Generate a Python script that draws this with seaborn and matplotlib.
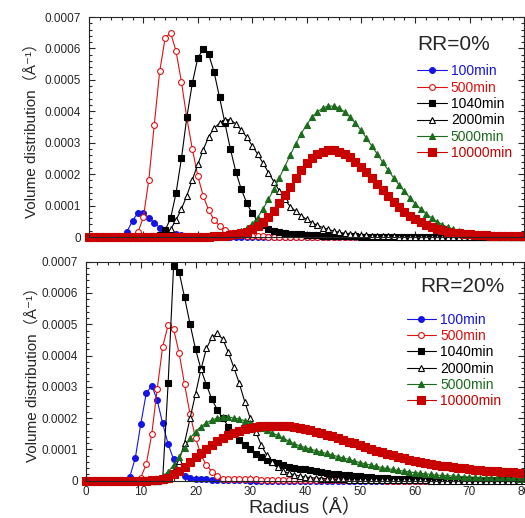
# Volume distribution vs radius, RR=0% and RR=20%

import numpy as np
import matplotlib
matplotlib.use('Agg')
import matplotlib.pyplot as plt
import seaborn as sns
from matplotlib.ticker import MultipleLocator, FuncFormatter

radius = list(range(0, 81))
times = ['100min', '500min', '1040min', '2000min', '5000min', '10000min']

# values, in units of 1e-4 per Angstrom (one per radius 0..80)
rr0_100 = [
    0, 0, 0, 0, 0, 0, 0.03, 0.17, 0.52, 0.77,
    0.77, 0.60, 0.46, 0.30, 0.22, 0.14, 0.09, 0.06, 0.04, 0.03,
    0.02, 0.02, 0.01, 0.01, 0, 0, 0, 0, 0, 0,
    0, 0, 0, 0, 0, 0, 0, 0, 0, 0,
    0, 0, 0, 0, 0, 0, 0, 0, 0, 0,
    0, 0, 0, 0, 0, 0, 0, 0, 0, 0,
    0, 0, 0, 0, 0, 0, 0, 0, 0, 0,
    0, 0, 0, 0, 0, 0, 0, 0, 0, 0,
    0]
rr0_500 = [
    0, 0, 0, 0, 0, 0, 0, 0, 0.03, 0.15,
    0.63, 1.82, 3.57, 5.27, 6.33, 6.50, 5.92, 4.93, 3.78, 2.80,
    1.95, 1.31, 0.86, 0.54, 0.36, 0.22, 0.14, 0.09, 0.06, 0.04,
    0.03, 0.02, 0.02, 0.01, 0.01, 0, 0, 0, 0, 0,
    0, 0, 0, 0, 0, 0, 0, 0, 0, 0,
    0, 0, 0, 0, 0, 0, 0, 0, 0, 0,
    0, 0, 0, 0, 0, 0, 0, 0, 0, 0,
    0, 0, 0, 0, 0, 0, 0, 0, 0, 0,
    0]
rr0_1040 = [
    0, 0, 0, 0, 0, 0, 0, 0, 0, 0,
    0, 0, 0.02, 0.07, 0.22, 0.59, 1.39, 2.50, 3.82, 4.89,
    5.69, 5.98, 5.82, 5.25, 4.45, 3.62, 2.80, 2.08, 1.52, 1.09,
    0.75, 0.52, 0.37, 0.27, 0.20, 0.16, 0.13, 0.11, 0.09, 0.08,
    0.07, 0.06, 0.05, 0.04, 0.04, 0.03, 0.03, 0.02, 0.02, 0.02,
    0.01, 0.01, 0.01, 0.01, 0.01, 0.01, 0, 0, 0, 0,
    0, 0, 0, 0, 0, 0, 0, 0, 0, 0,
    0, 0, 0, 0, 0, 0, 0, 0, 0, 0,
    0]
rr0_2000 = [
    0, 0, 0, 0, 0, 0, 0, 0, 0, 0,
    0, 0, 0, 0.03, 0.10, 0.24, 0.54, 0.89, 1.32, 1.82,
    2.31, 2.77, 3.19, 3.46, 3.62, 3.73, 3.73, 3.60, 3.41, 3.18,
    2.91, 2.64, 2.35, 2.05, 1.76, 1.47, 1.20, 0.97, 0.82, 0.68,
    0.56, 0.46, 0.37, 0.30, 0.24, 0.19, 0.15, 0.12, 0.10, 0.08,
    0.06, 0.05, 0.04, 0.03, 0.03, 0.02, 0.02, 0.01, 0.01, 0.01,
    0.01, 0.01, 0, 0, 0, 0, 0, 0, 0, 0,
    0, 0, 0, 0, 0, 0, 0, 0, 0, 0,
    0]
rr0_5000 = [
    0, 0, 0, 0, 0, 0, 0, 0, 0, 0,
    0, 0, 0, 0, 0, 0, 0, 0, 0, 0,
    0, 0, 0.01, 0.02, 0.03, 0.05, 0.09, 0.14, 0.20, 0.28,
    0.42, 0.62, 0.89, 1.20, 1.52, 1.88, 2.24, 2.60, 2.96, 3.28,
    3.57, 3.81, 3.98, 4.10, 4.17, 4.16, 4.10, 3.98, 3.82, 3.62,
    3.40, 3.15, 2.90, 2.64, 2.38, 2.13, 1.89, 1.66, 1.45, 1.25,
    1.06, 0.89, 0.74, 0.61, 0.49, 0.39, 0.31, 0.24, 0.19, 0.14,
    0.11, 0.08, 0.06, 0.05, 0.04, 0.03, 0.02, 0.02, 0.01, 0.01,
    0.01]
rr0_10000 = [
    0, 0, 0, 0, 0, 0, 0, 0, 0, 0,
    0, 0, 0, 0, 0, 0, 0, 0, 0, 0,
    0, 0, 0.01, 0.02, 0.03, 0.04, 0.06, 0.08, 0.12, 0.17,
    0.24, 0.35, 0.49, 0.65, 0.84, 1.09, 1.34, 1.59, 1.88, 2.13,
    2.34, 2.50, 2.63, 2.72, 2.77, 2.77, 2.72, 2.64, 2.54, 2.40,
    2.24, 2.06, 1.87, 1.68, 1.50, 1.31, 1.12, 0.97, 0.81, 0.67,
    0.56, 0.47, 0.39, 0.32, 0.26, 0.21, 0.17, 0.14, 0.12, 0.10,
    0.08, 0.07, 0.06, 0.05, 0.04, 0.04, 0.03, 0.03, 0.02, 0.02,
    0.02]

rr20_100 = [
    0, 0, 0, 0, 0, 0, 0, 0.02, 0.13, 0.72,
    1.81, 2.79, 3.04, 2.58, 1.83, 1.17, 0.68, 0.34, 0.16, 0.09,
    0.06, 0.05, 0.04, 0.03, 0.03, 0.02, 0.02, 0.01, 0.01, 0.01,
    0, 0, 0, 0, 0, 0, 0, 0, 0, 0,
    0, 0, 0, 0, 0, 0, 0, 0, 0, 0,
    0, 0, 0, 0, 0, 0, 0, 0, 0, 0,
    0, 0, 0, 0, 0, 0, 0, 0, 0, 0,
    0, 0, 0, 0, 0, 0, 0, 0, 0, 0,
    0]
rr20_500 = [
    0, 0, 0, 0, 0, 0, 0, 0, 0, 0.02,
    0.10, 0.52, 1.48, 2.92, 4.28, 4.97, 4.85, 4.09, 3.08, 2.13,
    1.37, 0.82, 0.50, 0.29, 0.14, 0.07, 0.05, 0.05, 0.04, 0.04,
    0.04, 0.04, 0.03, 0.03, 0.03, 0.03, 0.03, 0.03, 0.03, 0.02,
    0.02, 0.02, 0.02, 0.02, 0.02, 0.01, 0.01, 0.01, 0.01, 0.01,
    0.01, 0.01, 0.01, 0.01, 0.01, 0, 0, 0, 0, 0,
    0, 0, 0, 0, 0, 0, 0, 0, 0, 0,
    0, 0, 0, 0, 0, 0, 0, 0, 0, 0,
    0]
rr20_1040 = [
    0, 0, 0, 0, 0, 0, 0, 0, 0, 0,
    0, 0, 0, 0, 0.03, 3.11, 6.86, 6.68, 5.86, 5.01,
    4.21, 3.56, 3.06, 2.60, 2.26, 1.99, 1.73, 1.51, 1.30, 1.14,
    1.00, 0.85, 0.77, 0.66, 0.61, 0.55, 0.50, 0.45, 0.41, 0.38,
    0.36, 0.33, 0.30, 0.27, 0.25, 0.23, 0.21, 0.19, 0.17, 0.15,
    0.14, 0.12, 0.11, 0.10, 0.09, 0.08, 0.07, 0.06, 0.05, 0.05,
    0.04, 0.04, 0.03, 0.03, 0.03, 0.02, 0.02, 0.02, 0.02, 0.02,
    0.02, 0.01, 0.01, 0.01, 0.01, 0.01, 0.01, 0.01, 0.01, 0.01,
    0.01]
rr20_2000 = [
    0, 0, 0, 0, 0, 0, 0, 0, 0, 0,
    0, 0, 0, 0, 0.02, 0.08, 0.32, 0.64, 1.21, 1.99,
    2.77, 3.56, 4.23, 4.58, 4.71, 4.52, 4.10, 3.62, 3.11, 2.52,
    1.99, 1.57, 1.14, 0.82, 0.59, 0.43, 0.31, 0.24, 0.19, 0.15,
    0.12, 0.10, 0.08, 0.07, 0.06, 0.05, 0.04, 0.04, 0.03, 0.03,
    0.02, 0.02, 0.02, 0.02, 0.02, 0.02, 0.01, 0.01, 0.01, 0.01,
    0.01, 0.01, 0.01, 0, 0, 0, 0, 0, 0, 0,
    0, 0, 0, 0, 0, 0, 0, 0, 0, 0,
    0]
rr20_5000 = [
    0, 0, 0, 0, 0, 0, 0, 0, 0, 0,
    0, 0, 0, 0.05, 0.15, 0.29, 0.50, 0.77, 1.05, 1.35,
    1.57, 1.73, 1.85, 1.94, 2.00, 2.04, 2.04, 2.00, 1.97, 1.92,
    1.85, 1.78, 1.70, 1.62, 1.53, 1.45, 1.36, 1.27, 1.18, 1.12,
    1.06, 1.01, 0.96, 0.91, 0.87, 0.82, 0.77, 0.73, 0.68, 0.63,
    0.58, 0.54, 0.50, 0.46, 0.42, 0.39, 0.36, 0.33, 0.31, 0.28,
    0.26, 0.24, 0.22, 0.20, 0.18, 0.17, 0.16, 0.15, 0.14, 0.13,
    0.12, 0.11, 0.10, 0.10, 0.09, 0.09, 0.08, 0.08, 0.08, 0.07,
    0.07]
rr20_10000 = [
    0, 0, 0, 0, 0, 0, 0, 0, 0, 0,
    0, 0, 0.01, 0.03, 0.06, 0.10, 0.21, 0.32, 0.45, 0.59,
    0.75, 0.88, 1.01, 1.14, 1.27, 1.37, 1.46, 1.53, 1.60, 1.65,
    1.69, 1.72, 1.74, 1.75, 1.76, 1.76, 1.75, 1.74, 1.72, 1.69,
    1.65, 1.61, 1.56, 1.52, 1.47, 1.42, 1.37, 1.31, 1.25, 1.19,
    1.13, 1.07, 1.01, 0.96, 0.91, 0.86, 0.81, 0.76, 0.72, 0.67,
    0.63, 0.60, 0.57, 0.53, 0.50, 0.48, 0.46, 0.44, 0.42, 0.40,
    0.37, 0.35, 0.34, 0.32, 0.31, 0.30, 0.29, 0.28, 0.27, 0.26,
    0.25]

rr0_curves = [rr0_100, rr0_500, rr0_1040, rr0_2000, rr0_5000, rr0_10000]
rr20_curves = [rr20_100, rr20_500, rr20_1040, rr20_2000, rr20_5000, rr20_10000]

blue = '#1414e6'
red = '#e01010'
dark_red = '#c80000'
green = '#1d6b1d'

styles = {
    '100min':   dict(color=blue, marker='o', mfc=blue, ms=4.2),
    '500min':   dict(color=red, marker='o', mfc='white', ms=4.2),
    '1040min':  dict(color='black', marker='s', mfc='black', ms=4.7),
    '2000min':  dict(color='black', marker='^', mfc='white', ms=5.0),
    '5000min':  dict(color=green, marker='^', mfc=green, ms=4.3),
    '10000min': dict(color=dark_red, marker='s', mfc=dark_red, ms=5.4),
}
text_colors = [blue, red, 'black', 'black', green, dark_red]

sns.set_style('ticks')
plt.rcParams['font.family'] = ['Liberation Sans', 'Noto Sans CJK SC', 'DejaVu Sans']


def fmt_y(v, pos):
    return '0' if abs(v) < 1e-12 else f'{v:.4f}'


def draw_panel(ax, curves, tag, tag_xy, leg_xy):
    for name, vals in zip(times, curves):
        st = styles[name]
        sns.lineplot(x=radius, y=np.array(vals) * 1e-4, ax=ax,
                     estimator=None, errorbar=None,
                     color=st['color'], linewidth=0.8,
                     marker=st['marker'], markersize=st['ms'],
                     markerfacecolor=st['mfc'], markeredgecolor=st['color'],
                     markeredgewidth=0.8, label=name, clip_on=False)
    ax.set_xlim(0, 80)
    ax.set_ylim(0, 0.0007)
    ax.xaxis.set_major_locator(MultipleLocator(10))
    ax.xaxis.set_minor_locator(MultipleLocator(2))
    ax.yaxis.set_major_locator(MultipleLocator(0.0001))
    ax.yaxis.set_minor_locator(MultipleLocator(0.00002))
    ax.yaxis.set_major_formatter(FuncFormatter(fmt_y))
    ax.tick_params(which='both', direction='in', top=True, right=True,
                   width=0.8, labelsize=8.5)
    ax.tick_params(which='major', length=4.5)
    ax.tick_params(which='minor', length=2.5)
    ax.tick_params(axis='y', pad=6)
    ax.tick_params(axis='x', pad=4)
    for sp in ax.spines.values():
        sp.set_linewidth(0.8)

    ax.set_ylabel('Volume distribution（Å⁻¹）', fontsize=11)
    ax.text(tag_xy[0], tag_xy[1], tag, transform=ax.transAxes,
            fontsize=15, ha='left', va='center')

    handles, labels = ax.get_legend_handles_labels()
    leg = ax.legend(handles, labels, loc='upper left', bbox_to_anchor=leg_xy,
                    frameon=False, fontsize=10, borderpad=0, borderaxespad=0,
                    handlelength=2.1, handletextpad=0.3, labelspacing=0.17,
                    numpoints=1)
    for t, c in zip(leg.get_texts(), text_colors):
        t.set_color(c)


fig = plt.figure(figsize=(5.25, 5.18), dpi=100)
W, H = 525.0, 518.0
ax1 = fig.add_axes([89 / W, (H - 237) / H, (524 - 89) / W, 220 / H])
ax2 = fig.add_axes([86 / W, (H - 480.7) / H, (524 - 86) / W, 219 / H])

draw_panel(ax1, rr0_curves, 'RR=0%', (0.755, 0.873), (0.755, 0.785))
draw_panel(ax2, rr20_curves, 'RR=20%', (0.763, 0.889), (0.732, 0.768))

ax1.tick_params(labelbottom=False)
ax1.yaxis.set_label_coords(-0.115, 0.5)
ax2.yaxis.set_label_coords(-0.107, 0.5)
ax2.set_xlabel('Radius（Å）', fontsize=14)
ax2.xaxis.set_label_coords(0.5, -0.083)

fig.savefig('out.png', dpi=100)
